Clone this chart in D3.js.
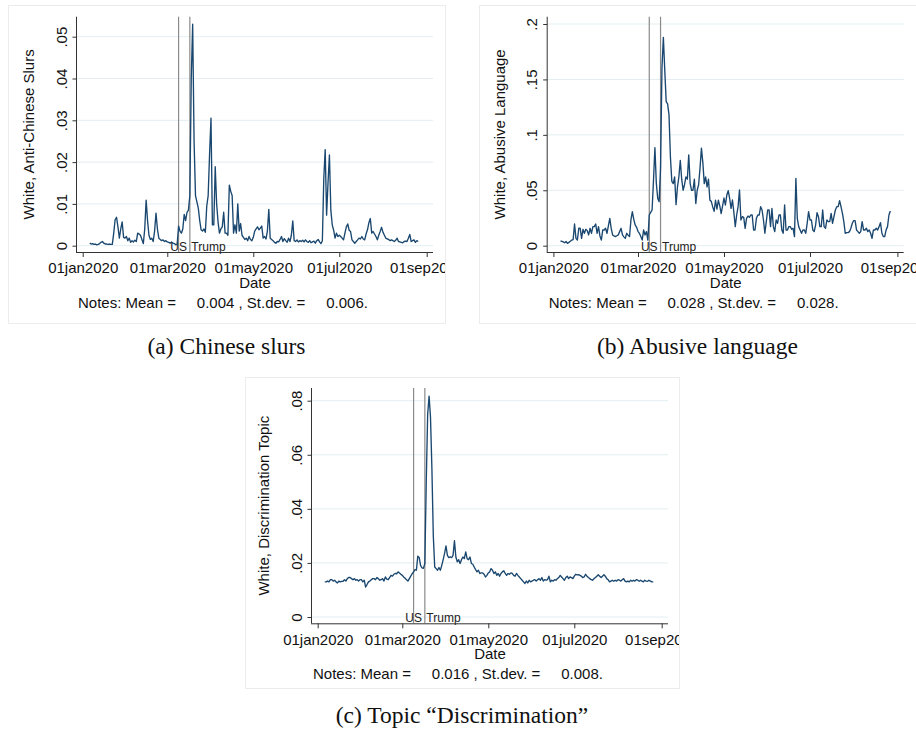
<!DOCTYPE html>
<html>
<head>
<meta charset="utf-8">
<script src="https://cdn.jsdelivr.net/npm/d3@7"></script>
<style>
  body { margin: 0; background: #fff; }
  svg { display: block; }
  text { font-family: "Liberation Sans", Arial, sans-serif; }
  .caption { font-family: "Liberation Serif", "Times New Roman", serif; }
</style>
</head>
<body>
<svg id="chart" width="916" height="731"></svg>
<script>
// ---- Data (daily shares, first value is 06jan2020)
const seriesStart = '2020-01-06';

const slursValues = [
  .0006, .0004, .0005, .0003, .0004, .0002, .0003, .0005, .0008, .001,
  .0006, .0004, .0004, .0003, .0004, .0003, .0003, .003, .0062, .0068,
  .0045, .0018, .004, .0057, .002, .0018, .0022, .0012, .0018, .0008,
  .0012, .0009, .0013, .001, .003, .0028, .0025, .0015, .0005, .004,
  .0109, .006, .0025, .0015, .0018, .001, .0035, .0078, .004, .0018,
  .0015, .0012, .0014, .001, .0012, .0009, .0008, .0006, .0009, .0006,
  .0005, .0002, .0003, .0047, .0035, .003, .004, .0075, .006, .008,
  .0085, .012, .04, .053, .025, .012, .0105, .009, .006, .0038,
  .0035, .004, .0032, .0095, .012, .022, .0305, .005, .005, .0189,
  .01, .0057, .003, .004, .0045, .008, .003, .003, .0025, .0145,
  .013, .012, .003, .005, .003, .01, .0035, .0053, .0025, .002,
  .0015, .0018, .0012, .0022, .0015, .0012, .002, .0035, .004, .0045,
  .0038, .0042, .0047, .0018, .0022, .0016, .0035, .0087, .0018, .0015,
  .0012, .0008, .0006, .001, .0009, .0015, .0022, .001, .0017, .0012,
  .0008, .0018, .001, .0025, .0059, .0012, .001, .0014, .0009, .0012,
  .001, .0013, .0009, .0014, .001, .0008, .0012, .0007, .0009, .0011,
  .0006, .0012, .0015, .0009, .0005, .0012, .016, .023, .0073, .015,
  .0217, .0085, .005, .0037, .0018, .003, .0022, .0025, .0022, .0018,
  .0014, .003, .0045, .0052, .0037, .0034, .0014, .001, .0006, .001,
  .0014, .0018, .0016, .0022, .0016, .0014, .0028, .0038, .0055, .0065,
  .003, .0034, .0028, .0022, .0014, .0025, .0034, .0044, .0032, .0025,
  .0018, .0016, .0015, .0012, .0014, .0012, .001, .0013, .0018, .001,
  .0009, .0008, .0007, .001, .0011, .001, .0018, .0027, .001, .0012,
  .0014, .0008, .0012, .001
];

const abusiveValues = [
  .0042, .004, .0035, .0027, .0038, .0021, .003, .004, .0051, .0055,
  .0196, .0066, .0051, .0157, .0157, .0066, .0148, .0112, .0148, .0136,
  .0097, .0157, .0112, .0172, .0172, .0196, .0112, .0172, .0088, .0051,
  .0142, .0142, .0157, .0112, .0178, .0247, .0157, .0097, .0088, .0082,
  .009, .0097, .0127, .0157, .0097, .008, .0066, .0112, .0095, .0082,
  .0232, .0307, .0238, .0187, .0166, .013, .0112, .0082, .0051, .0142,
  .0097, .0127, .0051, .0277, .03, .0322, .059, .0885, .0563, .0427,
  .0397, .07, .16, .188, .158, .13, .128, .118, .08, .058,
  .056, .062, .037, .053, .062, .077, .06, .05, .055, .062,
  .06, .082, .056, .05, .05, .06, .038, .05, .055, .07,
  .088, .075, .056, .062, .053, .06, .041, .04, .035, .031,
  .041, .033, .041, .036, .029, .036, .043, .0367, .0457, .0497,
  .0428, .0337, .0412, .03, .0172, .0277, .0352, .0503, .0232, .0262,
  .0256, .0157, .0247, .0268, .0256, .0277, .0277, .0142, .0142, .0247,
  .0277, .0277, .0352, .0322, .0232, .0112, .0217, .0322, .0322, .0172,
  .0337, .0172, .0127, .0232, .0202, .0277, .0277, .0142, .0112, .0367,
  .0142, .0142, .0172, .0172, .0148, .0157, .0082, .0608, .0247, .0172,
  .0142, .0112, .0142, .0142, .0112, .0202, .0307, .0232, .0232, .0142,
  .0127, .0187, .0298, .0262, .0172, .0172, .0322, .0172, .0157, .0232,
  .0217, .0217, .0292, .0202, .0262, .0322, .0352, .0352, .0406, .0352,
  .0292, .0217, .0112, .0118, .0118, .0127, .0157, .0202, .0226, .0226,
  .0142, .0127, .0112, .0127, .0217, .0142, .0142, .0157, .0127, .0142,
  .0112, .0067, .0142, .0142, .0157, .0142, .0172, .0208, .0112, .0082,
  .0082, .0142, .0172, .0277, .0313
];

const discriminationValues = [
  .013, .013, .0133, .013, .0138, .0138, .0133, .0136, .013, .0126,
  .0133, .013, .0132, .0132, .0138, .0133, .0142, .0146, .0146, .0142,
  .0138, .0142, .0136, .0138, .0133, .0138, .0138, .013, .0136, .0111,
  .012, .013, .0133, .0138, .0142, .0142, .0138, .0146, .0142, .0136,
  .0138, .0142, .0133, .0148, .014, .0138, .0146, .0154, .0151, .0158,
  .0161, .016, .0167, .0163, .0158, .0154, .0148, .0143, .0138, .0133,
  .0142, .0151, .016, .0167, .0175, .0173, .0225, .022, .019, .0182,
  .018, .0198, .05, .075, .0817, .074, .055, .03, .0185, .0179,
  .0173, .0183, .0173, .0191, .0212, .0235, .0263, .0228, .022, .0222,
  .022, .0228, .0282, .0222, .0204, .0212, .0198, .0212, .0222, .0216,
  .0241, .0216, .0212, .0222, .0198, .0195, .0185, .0175, .0167, .0173,
  .0161, .0163, .0163, .0158, .0148, .0154, .0163, .0167, .0179, .0173,
  .0161, .0167, .0154, .0161, .0151, .0161, .0167, .0171, .0161, .0154,
  .0161, .0158, .0163, .0161, .0154, .0151, .0161, .0154, .0148, .0142,
  .0136, .013, .0124, .0133, .0126, .0136, .013, .0133, .0136, .0138,
  .0133, .0138, .0142, .0136, .0146, .0133, .0138, .0136, .0138, .0151,
  .013, .0136, .0133, .0138, .0136, .0142, .0146, .0154, .0148, .0142,
  .0136, .0146, .0151, .0142, .0148, .0146, .0142, .0151, .0158, .0156,
  .0157, .0154, .0151, .0146, .0148, .0158, .0151, .0146, .0142, .0138,
  .0136, .0142, .0146, .0151, .0156, .0151, .0146, .0151, .0156, .0151,
  .0142, .0138, .013, .0133, .0136, .0132, .0136, .0133, .0138, .0136,
  .0133, .0138, .0142, .0133, .013, .0133, .013, .0136, .0132, .0136,
  .0133, .0138, .0136, .0132, .0136, .0133, .013, .0136, .0133, .0132,
  .0136, .0133, .013, .013
];

const xTickDates = ['2020-01-01', '2020-03-01', '2020-05-01', '2020-07-01', '2020-09-01'];
const eventDates = ['2020-03-09', '2020-03-17'];
const eventLabels = ['US', 'Trump'];

const slursTicks = [0, .01, .02, .03, .04, .05];
const abusiveTicks = [0, .05, .1, .15, .2];
const discriminationTicks = [0, .02, .04, .06, .08];

const slursStats = ['0.004', '0.006'];
const abusiveStats = ['0.028', '0.028'];
const discriminationStats = ['0.016', '0.008'];

// ---- Panel layout (positions only)
const panels = [
    {
        values: slursValues, ticks: slursTicks, stats: slursStats,
        yTitle: 'White, Anti-Chinese Slurs', caption: '(a) Chinese slurs',
        box: { x: 8, y: 5, w: 437, h: 318 }, ox: 76, oy: 252, topTick: 215.3, captionY: 354
    },
    {
        values: abusiveValues, ticks: abusiveTicks, stats: abusiveStats,
        yTitle: 'White, Abusive Language', caption: '(b) Abusive language',
        box: { x: 479, y: 5, w: 445, h: 318 }, ox: 546.7, oy: 252, topTick: 228, captionY: 354
    },
    {
        values: discriminationValues, ticks: discriminationTicks, stats: discriminationStats,
        yTitle: 'White, Discrimination Topic', caption: '(c) Topic \u201cDiscrimination\u201d',
        box: { x: 245, y: 377, w: 434, h: 311 }, ox: 311, oy: 623.3, topTick: 222.6, captionY: 723
    }
];

const parse = d3.timeParse('%Y-%m-%d');
const navy = '#1a476f';
const svg = d3.select('#chart');

panels.forEach((p, pi) => {
    const clipId = `clip${pi}`;
    svg.append('clipPath').attr('id', clipId)
        .append('rect')
        .attr('x', p.box.x).attr('y', p.box.y)
        .attr('width', p.box.w).attr('height', p.box.h);

    // ---- Panel frame
    svg.append('rect')
        .attr('x', p.box.x + 0.5).attr('y', p.box.y + 0.5)
        .attr('width', p.box.w).attr('height', p.box.h)
        .style('fill', '#fff')
        .style('stroke', '#ececec');

    const g = svg.append('g').attr('clip-path', `url(#${clipId})`);

    const plotLeft = p.ox, plotRight = p.ox + 357;
    const plotBottom = p.oy, plotTop = p.oy - 235.3;

    const x = d3.scaleTime()
        .domain([parse(xTickDates[0]), parse(xTickDates[xTickDates.length - 1])])
        .range([p.ox + 6.7, p.ox + 350.7]);
    const y = d3.scaleLinear()
        .domain([0, p.ticks[p.ticks.length - 1]])
        .range([p.oy - 6.3, p.oy - p.topTick]);

    // ---- Grid lines
    g.append('g').selectAll('line')
        .data(p.ticks)
        .join('line')
        .attr('x1', plotLeft + 1).attr('x2', plotRight)
        .attr('y1', d => y(d)).attr('y2', d => y(d))
        .style('stroke', '#e3eef1')
        .style('stroke-width', 1);

    // ---- Event lines
    const events = eventDates.map((d, i) => ({ date: parse(d), label: eventLabels[i] }));
    g.append('g').selectAll('line')
        .data(events)
        .join('line')
        .attr('x1', d => x(d.date)).attr('x2', d => x(d.date))
        .attr('y1', plotTop).attr('y2', plotBottom)
        .style('stroke', '#8a8a8a')
        .style('stroke-width', 1.2);

    g.append('g').selectAll('text')
        .data(events)
        .join('text')
        .attr('x', (d, i) => i === 0 ? x(d.date) : x(d.date) + 1.5)
        .attr('y', plotBottom - 1.5)
        .attr('text-anchor', (d, i) => i === 0 ? 'middle' : 'start')
        .style('font-size', '12px')
        .style('fill', '#222')
        .text(d => d.label);

    // ---- Series
    const start = parse(seriesStart);
    const line = d3.line()
        .x((d, i) => x(d3.timeDay.offset(start, i)))
        .y(d => y(d));
    g.append('path')
        .datum(p.values)
        .attr('d', line)
        .style('fill', 'none')
        .style('stroke', navy)
        .style('stroke-width', 1.35)
        .style('stroke-linejoin', 'round');

    // ---- Axes
    const yAxis = g.append('g').attr('transform', `translate(${plotLeft},0)`)
        .call(d3.axisLeft(y).tickValues(p.ticks).tickSize(4).tickPadding(5)
            .tickFormat(d => d === 0 ? '0' : String(d).replace(/^0/, '')));
    yAxis.select('.domain').attr('d', `M0.5,${plotTop}V${plotBottom}`);
    yAxis.selectAll('.tick line').attr('x1', 0.5).attr('x2', -3.5);
    yAxis.selectAll('.tick text')
        .attr('transform', 'rotate(-90)')
        .attr('x', 0).attr('y', -9.5)
        .attr('dy', 0)
        .attr('text-anchor', 'middle')
        .style('font-size', '15px');

    const xAxis = g.append('g').attr('transform', `translate(0,${plotBottom})`)
        .call(d3.axisBottom(x).tickValues(xTickDates.map(parse)).tickSize(5).tickPadding(4)
            .tickFormat(d => d3.timeFormat('%d%b%Y')(d).toLowerCase()));
    xAxis.select('.domain').attr('d', `M${plotLeft},0.5H${plotRight}`);
    xAxis.selectAll('.tick text').attr('y', 21.3).attr('dy', 0).style('font-size', '15px');

    g.selectAll('.domain, .tick line').style('stroke', '#333');
    g.selectAll('.tick text').style('fill', '#111');

    // ---- Titles and notes
    g.append('text')
        .attr('transform', `translate(${p.ox - 42},${(plotTop + plotBottom) / 2}) rotate(-90)`)
        .attr('text-anchor', 'middle')
        .style('font-size', '15px')
        .style('fill', '#111')
        .text(p.yTitle);

    g.append('text')
        .attr('x', (plotLeft + plotRight) / 2 + 0.5)
        .attr('y', plotBottom + 36)
        .attr('text-anchor', 'middle')
        .style('font-size', '15px')
        .style('fill', '#111')
        .text('Date');

    g.append('text')
        .attr('x', p.ox + 2)
        .attr('y', plotBottom + 56)
        .style('font-size', '15px')
        .style('fill', '#111')
        .style('white-space', 'pre')
        .text(`Notes: Mean =     ${p.stats[0]} , St.dev. =     ${p.stats[1]}.`);

    // ---- Caption
    svg.append('text')
        .attr('class', 'caption')
        .attr('x', p.box.x + Math.min(p.box.w, 916 - p.box.x) / 2)
        .attr('y', p.captionY)
        .attr('text-anchor', 'middle')
        .style('font-size', '23.5px')
        .style('fill', '#111')
        .text(p.caption);
});
</script>
</body>
</html>
